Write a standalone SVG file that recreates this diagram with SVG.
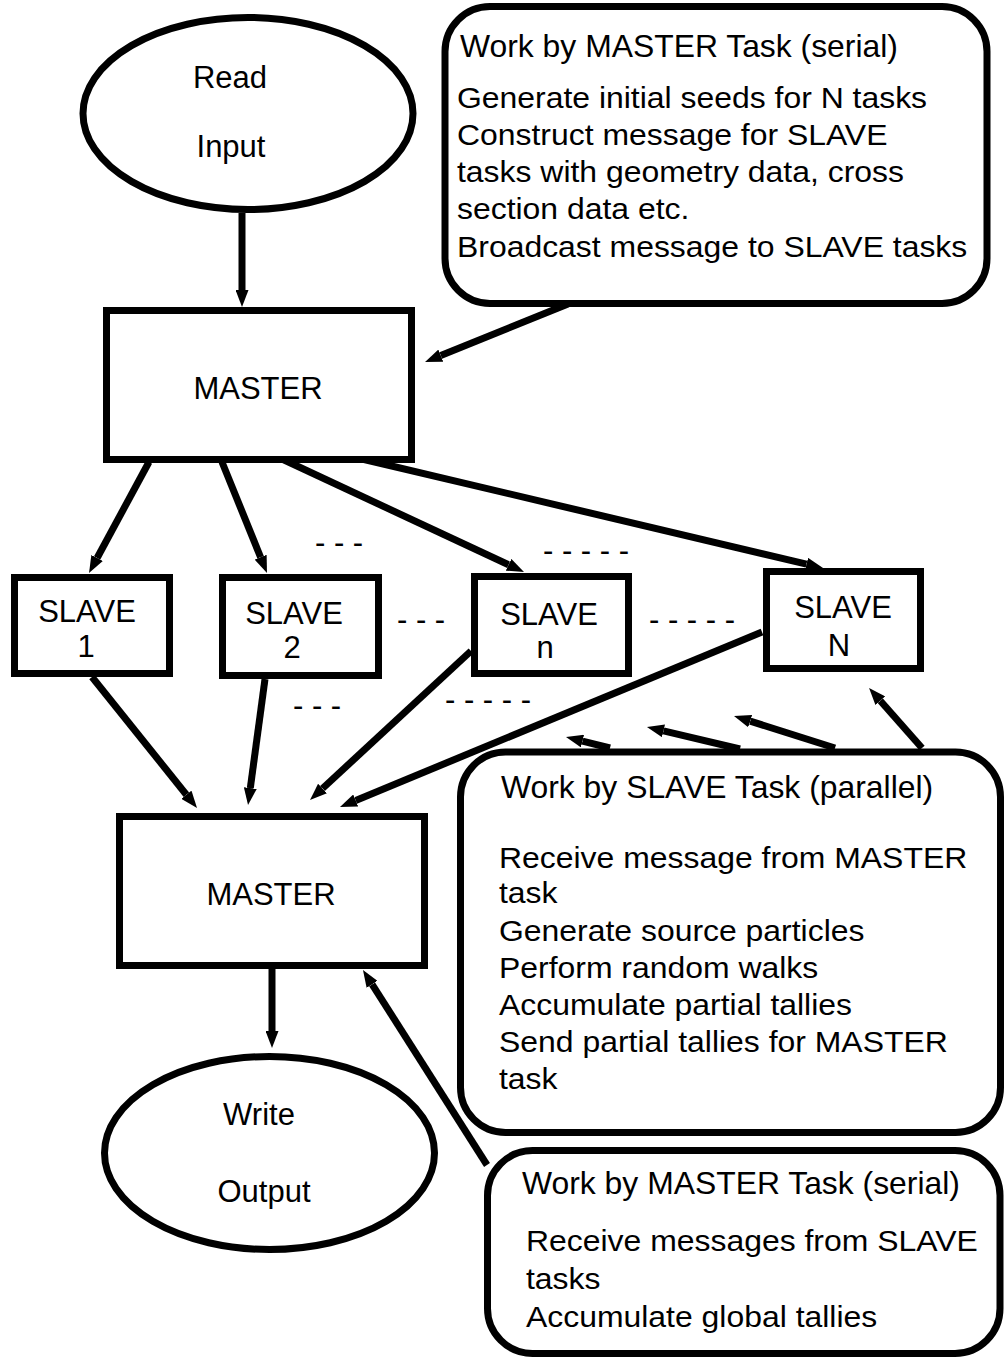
<svg xmlns="http://www.w3.org/2000/svg" width="1006" height="1359" viewBox="0 0 1006 1359">
<defs>
<style>
.box{fill:#fff;stroke:#000;stroke-width:7}
.conn{fill:none;stroke:#000;stroke-width:7;marker-end:url(#ah)}
text{font-family:"Liberation Sans",Arial,sans-serif;fill:#000}
.node{font-size:31px;text-anchor:middle}
.dash{font-size:31px}
.title{font-size:30.5px}
.body{font-size:29.3px}
</style>
<marker id="ah" markerUnits="userSpaceOnUse" markerWidth="17" markerHeight="13" refX="0" refY="6.5" orient="auto" viewBox="0 0 17 13">
<path d="M0,0 L17,6.5 L0,13 z" fill="#000"/>
</marker>
</defs>
<rect width="1006" height="1359" fill="#fff"/>
<g id="connectors">
<line class="conn" x1="242" y1="213" x2="242" y2="290"/>
<line class="conn" x1="568" y1="304" x2="440.8" y2="355.6"/>
<line class="conn" x1="149" y1="462" x2="97.1" y2="558"/>
<line class="conn" x1="222" y1="462" x2="260.6" y2="557.2"/>
<line class="conn" x1="282" y1="459" x2="508.6" y2="564.8"/>
<line class="conn" x1="362" y1="459" x2="806.5" y2="564.1"/>
<line class="conn" x1="92" y1="677" x2="186.4" y2="794.7"/>
<line class="conn" x1="265" y1="679" x2="250.3" y2="788.1"/>
<line class="conn" x1="471" y1="651" x2="322.5" y2="788.5"/>
<line class="conn" x1="762" y1="632" x2="355.7" y2="800.5"/>
<line class="conn" x1="272" y1="969" x2="272" y2="1031"/>
<line class="conn" x1="487" y1="1165" x2="372.1" y2="984.3"/>
<line class="conn" x1="610" y1="748" x2="582.5" y2="741.1"/>
<line class="conn" x1="740" y1="749" x2="663.5" y2="730.9"/>
<line class="conn" x1="835" y1="748" x2="750.2" y2="721.1"/>
<line class="conn" x1="922" y1="748" x2="880.3" y2="700.7"/>
</g>
<g id="read-input">
<ellipse class="box" cx="248" cy="113.5" rx="165" ry="96"/>
<text class="node" x="230" y="88">Read</text>
<text class="node" x="231" y="157">Input</text>
</g>
<g id="master-top">
<rect class="box" x="106.5" y="310.5" width="305" height="149"/>
<text class="node" x="258" y="399">MASTER</text>
</g>
<g id="slave-1">
<rect class="box" x="14.5" y="577.5" width="155" height="96"/>
<text class="node" x="87" y="622">SLAVE</text>
<text class="node" x="86" y="657">1</text>
</g>
<g id="slave-2">
<rect class="box" x="222.5" y="577.5" width="156" height="98"/>
<text class="node" x="294" y="624">SLAVE</text>
<text class="node" x="292" y="658">2</text>
</g>
<g id="slave-n">
<rect class="box" x="474.5" y="576.5" width="154" height="97"/>
<text class="node" x="549" y="625">SLAVE</text>
<text class="node" x="545" y="658">n</text>
</g>
<g id="slave-N">
<rect class="box" x="766.5" y="571.5" width="154" height="97"/>
<text class="node" x="843" y="618">SLAVE</text>
<text class="node" x="839" y="656">N</text>
</g>
<g id="dots">
<text class="dash" x="315" y="552.5">- - -</text>
<text class="dash" x="397" y="629.5">- - -</text>
<text class="dash" x="293" y="715.5">- - -</text>
<text class="dash" x="543" y="560.5">- - - - -</text>
<text class="dash" x="649" y="629.5">- - - - -</text>
<text class="dash" x="445" y="709.5">- - - - -</text>
</g>
<g id="master-bottom">
<rect class="box" x="119.5" y="816.5" width="305" height="149"/>
<text class="node" x="271" y="905">MASTER</text>
</g>
<g id="write-output">
<ellipse class="box" cx="269.5" cy="1153" rx="165" ry="96.5"/>
<text class="node" x="259" y="1125">Write</text>
<text class="node" x="264" y="1202">Output</text>
</g>
<g id="note-master-serial-1">
<rect class="box" x="445" y="6.5" width="542" height="297" rx="45" ry="45"/>
<g transform="translate(460 0) scale(1.045 1)">
<text class="title" x="0" y="57">Work by MASTER Task (serial)</text>
</g>
<g transform="translate(457 0) scale(1.09 1)">
<text class="body" x="0" y="108">Generate initial seeds for N tasks</text>
<text class="body" x="0" y="145">Construct message for SLAVE</text>
<text class="body" x="0" y="182">tasks with geometry data, cross</text>
<text class="body" x="0" y="219">section data etc.</text>
<text class="body" x="0" y="257">Broadcast message to SLAVE tasks</text>
</g>
</g>
<g id="note-slave-parallel">
<rect class="box" x="460.5" y="752" width="540" height="380.5" rx="45" ry="45"/>
<g transform="translate(501 0) scale(1.045 1)">
<text class="title" x="0" y="798">Work by SLAVE Task (parallel)</text>
</g>
<g transform="translate(499 0) scale(1.09 1)">
<text class="body" x="0" y="868">Receive message from MASTER</text>
<text class="body" x="0" y="903">task</text>
<text class="body" x="0" y="941">Generate source particles</text>
<text class="body" x="0" y="978">Perform random walks</text>
<text class="body" x="0" y="1015">Accumulate partial tallies</text>
<text class="body" x="0" y="1052">Send partial tallies for MASTER</text>
<text class="body" x="0" y="1089">task</text>
</g>
</g>
<g id="note-master-serial-2">
<rect class="box" x="487.5" y="1150.5" width="512.5" height="203" rx="45" ry="45"/>
<g transform="translate(522 0) scale(1.045 1)">
<text class="title" x="0" y="1194">Work by MASTER Task (serial)</text>
</g>
<g transform="translate(526 0) scale(1.09 1)">
<text class="body" x="0" y="1251">Receive messages from SLAVE</text>
<text class="body" x="0" y="1289">tasks</text>
<text class="body" x="0" y="1327">Accumulate global tallies</text>
</g>
</g>
</svg>
